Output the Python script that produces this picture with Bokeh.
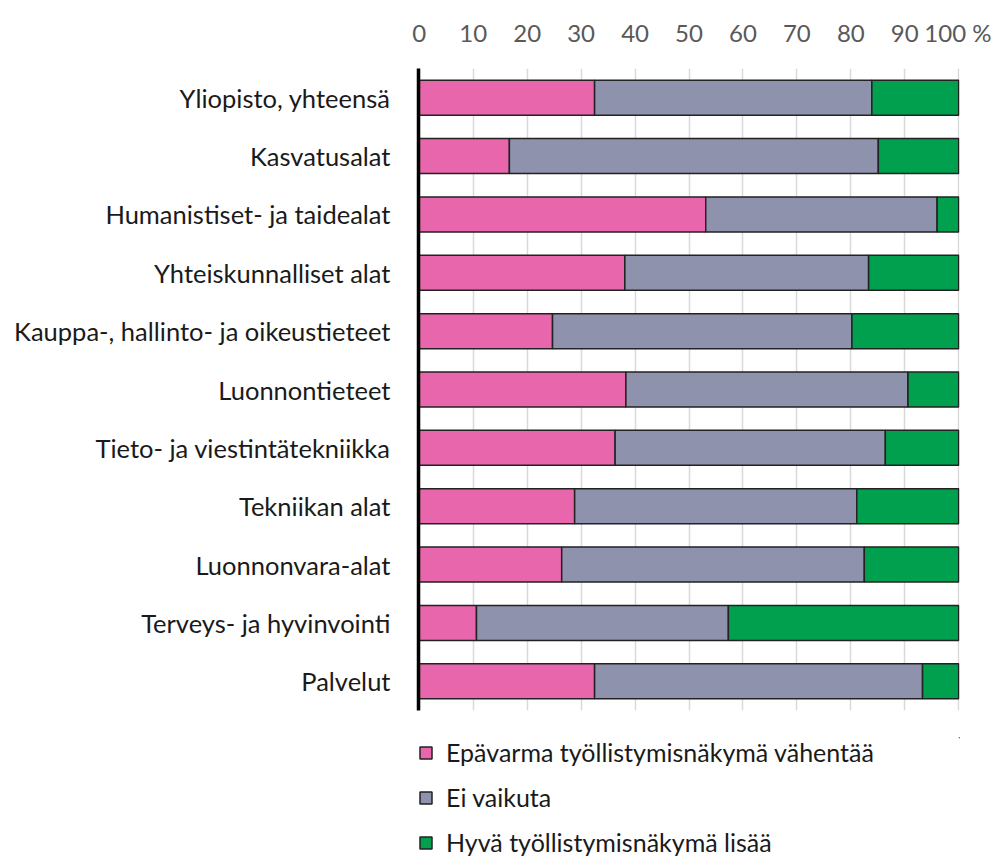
from bokeh.plotting import figure
from bokeh.models import Range1d, FactorRange, ColumnDataSource, Legend, LegendItem
from bokeh.layouts import column
from bokeh.embed import file_html
from bokeh.resources import INLINE

categories = [
    "Yliopisto, yhteensä",
    "Kasvatusalat",
    "Humanistiset- ja taidealat",
    "Yhteiskunnalliset alat",
    "Kauppa-, hallinto- ja oikeustieteet",
    "Luonnontieteet",
    "Tieto- ja viestintätekniikka",
    "Tekniikan alat",
    "Luonnonvara-alat",
    "Terveys- ja hyvinvointi",
    "Palvelut",
]
vahentaa = [32.5, 16.7, 53.1, 38.1, 24.7, 38.3, 36.3, 28.8, 26.4, 10.6, 32.5]
ei_vaikuta = [51.4, 68.4, 42.9, 45.2, 55.5, 52.3, 50.1, 52.3, 56.1, 46.7, 60.8]
lisaa = [16.1, 14.9, 4.0, 16.7, 19.8, 9.4, 13.6, 18.9, 17.5, 42.7, 6.7]
series_names = ["Epävarma työllistymisnäkymä vähentää", "Ei vaikuta", "Hyvä työllistymisnäkymä lisää"]
tick_values = [0, 10, 20, 30, 40, 50, 60, 70, 80, 90, 100]

colors = ["#E866AC", "#8E92AC", "#00A04E"]
FONT = "Lato"

source = ColumnDataSource(dict(cat=categories, s1=vahentaa, s2=ei_vaikuta, s3=lisaa))

p = figure(
    width=991, height=716,
    y_range=FactorRange(factors=list(reversed(categories)), range_padding=0),
    x_range=Range1d(-0.15, 100.15),
    x_axis_location="above",
    output_backend="svg", toolbar_location=None,
    min_border_left=417, min_border_right=32, min_border_top=68, min_border_bottom=6,
)

renderers = p.hbar_stack(["s1", "s2", "s3"], y="cat", height=0.6, color=colors,
                         line_color="#222222", line_width=1.5, source=source)

p.outline_line_color = None
p.background_fill_color = "white"
p.border_fill_color = "white"

# x axis (top)
xa = p.xaxis[0]
xa.ticker = tick_values
xa.major_label_overrides = {100: "100 %"}
xa.axis_line_color = None
xa.major_tick_line_color = None
xa.minor_tick_line_color = None
xa.major_label_text_font = FONT
xa.major_label_text_font_size = "24px"
xa.major_label_text_color = "#595959"
xa.major_label_standoff = 16

# y axis
ya = p.yaxis[0]
ya.axis_line_color = "black"
ya.axis_line_width = 3.5
ya.major_tick_line_color = None
ya.minor_tick_line_color = None
ya.major_label_text_font = FONT
ya.major_label_text_font_size = "25.5px"
ya.major_label_text_color = "#1a1a1a"
ya.major_label_standoff = 22

p.xgrid.grid_line_color = "#d9d9d9"
p.xgrid.grid_line_width = 1.5
p.ygrid.grid_line_color = None

# legend figure (frame starts at the same left edge as the bars)
lg = figure(
    width=991, height=143,
    x_range=Range1d(0, 1), y_range=Range1d(0, 1),
    x_axis_type=None, y_axis_type=None,
    output_backend="svg", toolbar_location=None,
    min_border_left=418, min_border_right=0, min_border_top=21, min_border_bottom=0,
)
lg.outline_line_color = None
lg.border_fill_color = "white"
lg.background_fill_color = "white"
lg.xgrid.visible = False
lg.ygrid.visible = False
# placeholder source kept outside the visible range; used only for legend swatches
dummy = ColumnDataSource(dict(y=[5], l=[5], r=[6]))
leg_renderers = [
    lg.hbar(y="y", left="l", right="r", height=0.5, source=dummy,
            fill_color=colors[i], line_color="#222222", line_width=1.5)
    for i in range(3)
]
legend = Legend(
    items=[LegendItem(label=series_names[i], renderers=[leg_renderers[i]]) for i in range(3)],
    location="top_left",
    orientation="vertical",
    padding=0, margin=0, spacing=15,
    glyph_width=15, glyph_height=15, label_height=24,
    label_standoff=13,
    label_text_font=FONT, label_text_font_size="25px", label_text_color="#1a1a1a",
    border_line_color=None, background_fill_alpha=0,
)
lg.add_layout(legend, "center")

layout = column(p, lg, spacing=0)
open("out.html", "w").write(file_html(layout, INLINE))
